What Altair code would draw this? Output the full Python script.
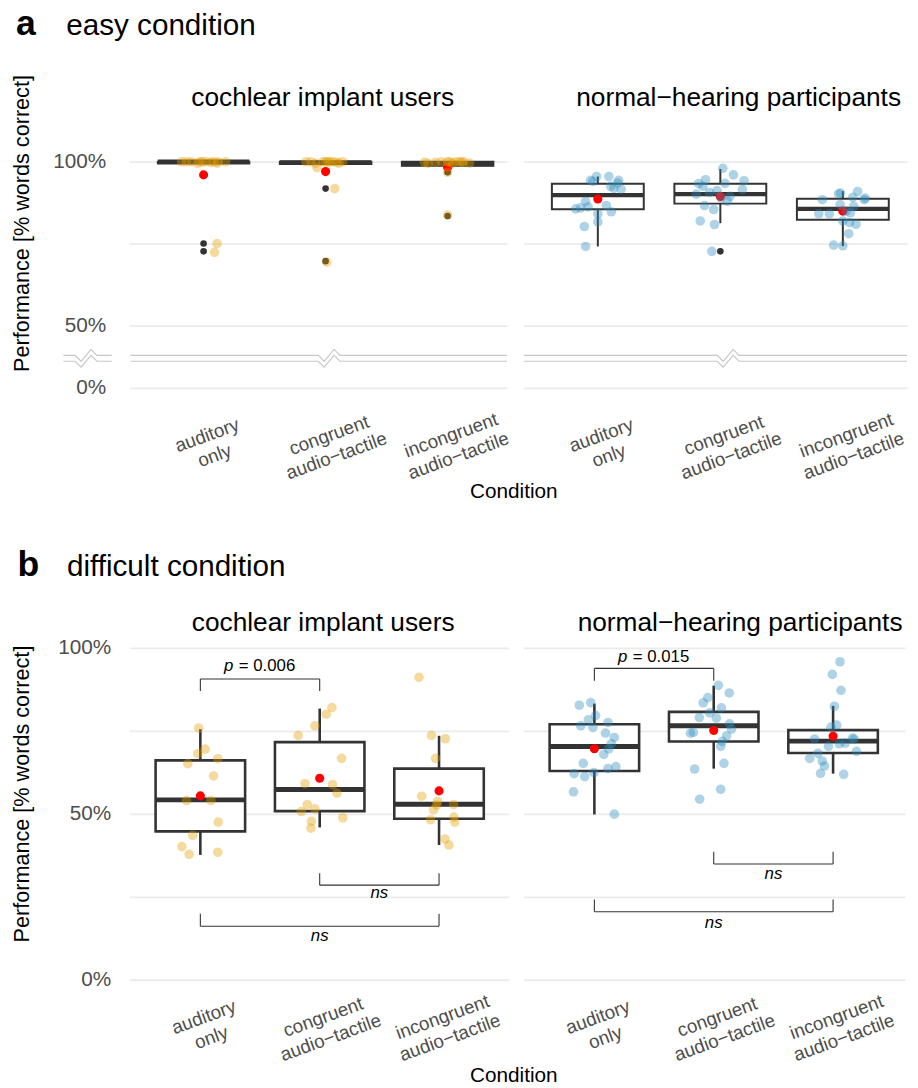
import json
import altair as alt
import pandas as pd

FONT = "Liberation Sans"
DARK = "#333333"
GRID = "#EBEBEB"
AXIS_TEXT = "#4D4D4D"
CI_COLOR = "#E69F00"
NH_COLOR = "#2B8CBE"
MEAN_COLOR = "#FF0000"
BREAK_COLOR = "#C8C8C8"

# ---------------- text ----------------
CONDITION_LINES = [["auditory", "only"], ["congruent", "audio−tactile"], ["incongruent", "audio−tactile"]]
GROUP_TITLES = ["cochlear implant users", "normal−hearing participants"]
PANEL_LETTERS = ["a", "b"]
PANEL_TITLES = ["easy condition", "difficult condition"]
Y_TITLE = "Performance [% words correct]"
X_TITLE = "Condition"

# y ticks (real %); gridlines at all, labels only where given
Y_TICKS_EASY = [0, 50, 75, 100]
Y_TICKS_DIFF = [0, 25, 50, 75, 100]
Y_LABELLED = {0: "0%", 50: "50%", 100: "100%"}
# broken axis of panel a: values >= 50 are plotted as they are, 0% sits at EASY_ZERO_AT
EASY_ZERO_AT = 30.9
EASY_BREAK_AT = [40.8, 39.0]

# ---------------- a: easy, cochlear implant users ----------------
A_CI_Q1 = [99.5, 99.3, 98.8]
A_CI_MED = [100.0, 99.8, 99.3]
A_CI_Q3 = [100.0, 100.0, 100.0]
A_CI_WLO = [99.5, 99.3, 98.8]
A_CI_WHI = [100.0, 100.0, 100.0]
A_CI_MEAN = [96.0, 97.0, 98.3]
A_CI_OUT = [[75.0, 72.6], [91.8, 69.6], [96.8, 83.4]]
A_CI_VAL = [
    [100, 100, 99.5, 100, 100, 99.6, 100, 100, 99.8, 100, 100, 100, 75.0, 72.3],
    [100, 99.5, 98.2, 100, 100, 99.6, 100, 100, 99.8, 100, 100, 100, 91.8, 69.3],
    [99.8, 99.5, 100, 100, 99.8, 99.6, 100, 99.5, 100, 99.8, 100, 100, 96.8, 83.7],
]
A_CI_JIT = [
    [-0.18, -0.10, -0.05, -0.01, 0.08, 0.11, 0.18, -0.14, 0.06, 0.12, -0.03, 0.02, 0.11, 0.09],
    [-0.16, -0.08, -0.07, 0.035, 0.06, 0.11, -0.02, 0.02, 0.09, -0.12, 0.0, 0.14, 0.075, 0.01],
    [-0.19, -0.16, 0.0, 0.10, 0.12, 0.18, -0.05, 0.04, 0.07, -0.10, 0.13, 0.02, 0.0, 0.0],
]

# ---------------- a: easy, normal-hearing ----------------
A_NH_Q1 = [85.5, 87.2, 82.3]
A_NH_MED = [89.8, 90.1, 85.6]
A_NH_Q3 = [93.3, 93.3, 88.7]
A_NH_WLO = [74.1, 81.2, 74.2]
A_NH_WHI = [95.5, 97.8, 91.0]
A_NH_MEAN = [88.6, 89.4, 84.9]
A_NH_OUT = [[], [72.6], []]
A_NH_VAL = [
    [95.5, 94.0, 94.3, 95.5, 94.3, 92.5, 91.6, 91.9, 93.5, 87.9, 85.6, 85.9, 86.2, 86.6, 84.7, 84.1, 81.6, 80.2, 74.1],
    [98.0, 96.0, 94.2, 94.5, 93.3, 93.4, 91.5, 90.1, 90.6, 91.2, 87.9, 86.6, 85.4, 81.9, 80.8, 72.6, 92.5, 89.0, 89.4],
    [90.4, 90.2, 90.9, 88.9, 89.1, 88.4, 86.9, 86.4, 84.1, 84.1, 84.4, 81.9, 81.4, 80.9, 78.0, 74.5, 74.3, 88.4, 84.9],
]
A_NH_JIT = [
    [-0.01, -0.04, -0.06, 0.09, 0.17, 0.105, 0.19, 0.13, 0.16, -0.10, -0.18, -0.14, -0.08, 0.07, 0.11, 0.0, 0.0, -0.11, -0.10],
    [0.02, 0.107, 0.194, -0.121, -0.177, 0.038, 0.18, -0.196, -0.089, -0.027, 0.059, -0.129, -0.054, -0.164, -0.048, -0.07, -0.143, 0.006, 0.078],
    [-0.019, -0.035, 0.121, 0.183, 0.081, -0.167, -0.022, 0.089, -0.196, -0.11, 0.062, 0.0, 0.054, 0.107, 0.048, -0.075, 0.0, 0.175, 0.027],
]

# ---------------- b: difficult, cochlear implant users ----------------
B_CI_Q1 = [44.7, 50.8, 48.5]
B_CI_MED = [54.2, 57.3, 52.9]
B_CI_Q3 = [66.1, 71.6, 63.6]
B_CI_WLO = [37.6, 45.9, 40.6]
B_CI_WHI = [75.5, 81.7, 73.5]
B_CI_MEAN = [55.4, 60.7, 56.9]
B_CI_OUT = [[], [], []]
B_CI_VAL = [
    [75.8, 69.5, 68.1, 66.6, 65.1, 61.4, 54.0, 54.0, 47.5, 43.5, 40.1, 37.8, 38.4],
    [82.0, 80.0, 76.5, 73.6, 66.7, 59.1, 58.8, 56.2, 52.8, 51.5, 50.7, 48.8, 47.7, 45.7],
    [91.1, 73.6, 72.6, 66.7, 55.3, 53.7, 52.8, 51.2, 48.2, 49.0, 47.5, 42.4, 40.6, 52.6],
]
B_CI_JIT = [
    [-0.014, 0.04, -0.02, 0.146, -0.105, 0.11, -0.116, 0.088, 0.15, -0.064, -0.155, -0.094, 0.146],
    [0.103, 0.055, -0.04, -0.18, 0.183, -0.123, 0.108, 0.144, -0.104, -0.04, -0.154, 0.194, -0.069, -0.074],
    [-0.168, -0.063, 0.053, -0.03, -0.146, -0.013, 0.122, -0.046, -0.071, 0.124, 0.132, 0.05, 0.083, -0.02],
]
B_CI_BRACKETS = dict(x1=[1, 2, 1], x2=[2, 3, 3], y_line=[90.6, 28.5, 16.1], y_tip=[87.0, 32.1, 19.9],
                     label=["p = 0.006", "ns", "ns"], label_x=[1.5, 2.5, 2.0], label_y=[92.9, 24.7, 11.8])

# ---------------- b: difficult, normal-hearing ----------------
B_NH_Q1 = [62.9, 71.8, 68.3]
B_NH_MED = [70.3, 76.5, 71.9]
B_NH_Q3 = [77.0, 80.7, 75.2]
B_NH_WLO = [49.8, 63.6, 62.1]
B_NH_WHI = [83.2, 88.6, 82.5]
B_NH_MEAN = [69.6, 75.1, 73.4]
B_NH_OUT = [[], [], []]
B_NH_VAL = [
    [82.7, 83.5, 79.6, 78.3, 76.5, 76.0, 77.5, 74.3, 73.0, 71.1, 67.9, 65.2, 62.1, 61.2, 62.4, 63.6, 64.2, 56.6, 49.9, 69.6],
    [88.7, 86.4, 85.0, 83.4, 81.9, 80.4, 79.0, 78.8, 77.1, 75.5, 74.3, 74.5, 73.5, 71.8, 70.3, 65.2, 63.5, 57.4, 54.4],
    [95.8, 92.0, 87.2, 82.4, 76.7, 76.1, 72.5, 72.8, 72.5, 71.3, 71.1, 70.3, 68.8, 68.2, 66.7, 65.9, 64.4, 62.2, 61.9],
]
B_NH_JIT = [
    [-0.126, -0.031, 0.01, -0.051, -0.114, -0.012, 0.114, 0.093, 0.167, 0.142, 0.079, -0.093, -0.17, -0.081, -0.004, 0.114, 0.18, -0.175, 0.167, 0.12],
    [0.039, 0.13, -0.05, -0.088, 0.064, -0.033, -0.121, 0.022, 0.132, 0.149, -0.195, -0.17, 0.108, 0.072, 0.058, 0.086, -0.16, 0.058, -0.118],
    [0.058, -0.006, 0.066, 0.011, 0.031, -0.017, -0.155, 0.163, 0.176, 0.102, 0.052, -0.039, 0.196, -0.127, -0.196, -0.091, -0.072, -0.105, 0.089],
]
B_NH_BRACKETS = dict(x1=[1, 2, 1], x2=[2, 3, 3], y_line=[93.8, 34.9, 20.5], y_tip=[90.1, 38.6, 24.2],
                     label=["p = 0.015", "ns", "ns"], label_x=[1.5, 2.5, 2.0], label_y=[95.8, 30.4, 15.6])

BOX_HALF = 0.375


def x_axis(pad):
    parts = []
    for i, lines in enumerate(CONDITION_LINES[:-1]):
        parts.append(f"datum.value == {i + 1} ? {json.dumps(lines, ensure_ascii=False)}")
    expr = " : ".join(parts) + " : " + json.dumps(CONDITION_LINES[-1], ensure_ascii=False)
    return alt.Axis(values=[1, 2, 3], labelExpr=expr, labelAngle=340, labelAlign="center",
                    labelBaseline="top", labelPadding=pad, labelFontSize=19, labelColor=AXIS_TEXT,
                    labelLineHeight=22, labelFont=FONT, labelOverlap=False, labelFlush=False,
                    ticks=False, tickSize=0, domain=False, grid=False, title=None)


def y_axis(ticks, pos_of, show, pad):
    values = [pos_of(t) for t in ticks]
    parts = [f"datum.value == {pos_of(t)} ? '{lab}'" for t, lab in Y_LABELLED.items() if t in ticks]
    expr = " : ".join(parts) + " : ''"
    return alt.Axis(values=values, labelExpr=expr, labels=show, ticks=False, tickSize=0, domain=False,
                    grid=True, gridColor=GRID, gridWidth=1.8, title=None, labelFontSize=21,
                    labelColor=AXIS_TEXT, labelPadding=pad, labelFont=FONT)


def text_layer(t, x, y, size, weight="normal", align="left", angle=0, style="normal", color="black"):
    return alt.Chart(pd.DataFrame({"k": [0]})).mark_text(
        text=t, fontSize=size, fontWeight=weight, align=align, baseline="alphabetic",
        angle=angle, font=FONT, fontStyle=style, color=color
    ).encode(x=alt.value(x), y=alt.value(y))


def panel(q1, med, q3, wlo, whi, mean, outs, vals, jits, color, xdom, ydom, width, height,
          yticks, pos_of, show_y, ypad, xpad, box_sw, med_sw, brackets=None, breaks=None, texts=()):
    xax = x_axis(xpad)
    yax = y_axis(yticks, pos_of, show_y, ypad)
    xs = alt.Scale(domain=xdom, nice=False, zero=False)
    ys = alt.Scale(domain=ydom, nice=False, zero=False)

    def X(f):
        return alt.X(f, type="quantitative", scale=xs, axis=xax)

    def Y(f):
        return alt.Y(f, type="quantitative", scale=ys, axis=yax)

    box = pd.DataFrame({"pos": [1, 2, 3], "q1": q1, "med": med, "q3": q3, "wlo": wlo, "whi": whi, "mean": mean})
    box["x_lo"] = box["pos"] - BOX_HALF
    box["x_hi"] = box["pos"] + BOX_HALF

    pts = pd.DataFrame([{"xj": i + 1 + j, "v": v} for i in range(3) for v, j in zip(vals[i], jits[i])])
    out = pd.DataFrame([{"pos": i + 1, "v": v} for i in range(3) for v in outs[i]])

    layers = []
    base = alt.Chart(box)
    layers.append(base.mark_rule(color=DARK, strokeWidth=box_sw).encode(x=X("pos"), y=Y("wlo"), y2="q1"))
    layers.append(base.mark_rule(color=DARK, strokeWidth=box_sw).encode(x=X("pos"), y=Y("q3"), y2="whi"))
    layers.append(base.mark_rect(fill="white", stroke=DARK, strokeWidth=box_sw).encode(
        x=X("x_lo"), x2="x_hi", y=Y("q1"), y2="q3"))
    layers.append(base.mark_rule(color=DARK, strokeWidth=med_sw).encode(x=X("x_lo"), x2="x_hi", y=Y("med")))
    if len(out):
        layers.append(alt.Chart(out).mark_circle(color=DARK, size=45, opacity=1).encode(x=X("pos"), y=Y("v")))
    layers.append(base.mark_circle(color=MEAN_COLOR, size=85, opacity=1).encode(x=X("pos"), y=Y("mean")))
    layers.append(alt.Chart(pts).mark_circle(color=color, size=95, opacity=0.38).encode(x=X("xj"), y=Y("v")))

    if brackets is not None:
        segs = []
        for x1, x2, yl, yt in zip(brackets["x1"], brackets["x2"], brackets["y_line"], brackets["y_tip"]):
            segs.append({"x": x1, "x2": x2, "y": yl, "y2": yl})
            segs.append({"x": x1, "x2": x1, "y": yl, "y2": yt})
            segs.append({"x": x2, "x2": x2, "y": yl, "y2": yt})
        layers.append(alt.Chart(pd.DataFrame(segs)).mark_rule(color=DARK, strokeWidth=1.1).encode(
            x=X("x"), x2="x2", y=Y("y"), y2="y2"))
        lab = pd.DataFrame({"x": brackets["label_x"], "y": brackets["label_y"], "t": brackets["label"]})
        pv = lab[lab["t"].str.startswith("p")].copy()
        pv["rest"] = pv["t"].str[1:].str.strip()
        ns = lab[~lab["t"].str.startswith("p")]
        layers.append(alt.Chart(pv).mark_text(fontSize=17, fontStyle="italic", align="left", dx=-36.5,
                                              baseline="alphabetic", font=FONT, color="black").encode(
            x=X("x"), y=Y("y"), text=alt.value("p")))
        layers.append(alt.Chart(pv).mark_text(fontSize=17, align="left", dx=-21.5, baseline="alphabetic",
                                              font=FONT, color="black").encode(
            x=X("x"), y=Y("y"), text="rest:N"))
        layers.append(alt.Chart(ns).mark_text(fontSize=17, fontStyle="italic", align="center",
                                              baseline="alphabetic", font=FONT, color="black").encode(
            x=X("x"), y=Y("y"), text="t:N"))

    if breaks is not None:
        pxu = width / (xdom[1] - xdom[0])
        pyu = height / (ydom[1] - ydom[0])
        zig = [(-12, 0), (-6, 6), (4, -6), (10, 0)]
        rows = []
        lid = 0
        for xs0, xs1, xc in breaks:
            for yb in EASY_BREAK_AT:
                pts_line = [(xs0, yb)] + [(xc + dx / pxu, yb - dy / pyu) for dx, dy in zig] + [(xs1, yb)]
                for k, (bx, by) in enumerate(pts_line):
                    rows.append({"x": bx, "y": by, "id": lid, "o": k})
                lid += 1
        layers.append(alt.Chart(pd.DataFrame(rows)).mark_line(color=BREAK_COLOR, strokeWidth=1.2).encode(
            x=X("x"), y=Y("y"), detail="id:N", order="o:Q"))

    for t in texts:
        layers.append(text_layer(**t))

    return alt.layer(*layers).properties(width=width, height=height)


def easy_pos(v):
    return EASY_ZERO_AT if v == 0 else v


def plain_pos(v):
    return v


TITLE_SIZE = 26.6
YT_SIZE = 21.9

# ---------------- row a ----------------
A_CI_XDOM = [0.393, 3.486]
A_NH_XDOM = [0.395, 3.524]
A_YDOM = [28.1, 112.7]
A_H = 280

a_ci = panel(A_CI_Q1, A_CI_MED, A_CI_Q3, A_CI_WLO, A_CI_WHI, A_CI_MEAN, A_CI_OUT, A_CI_VAL, A_CI_JIT,
             CI_COLOR, A_CI_XDOM, A_YDOM, 382, A_H, Y_TICKS_EASY, easy_pos, True, 24, 30, 2, 4.5,
             breaks=[(-0.1495, 0.2473, 0.0448), (0.401, A_CI_XDOM[1], 2.037)],
             texts=[dict(t=PANEL_LETTERS[0], x=-115, y=-86, size=36, weight="bold"),
                    dict(t=PANEL_TITLES[0], x=-64, y=-86, size=30),
                    dict(t=GROUP_TITLES[0], x=195.5, y=-14, size=TITLE_SIZE, align="center"),
                    dict(t=Y_TITLE, x=-102, y=104.5, size=YT_SIZE, align="center", angle=270),
                    dict(t=X_TITLE, x=389, y=382, size=21, align="center")])

a_nh = panel(A_NH_Q1, A_NH_MED, A_NH_Q3, A_NH_WLO, A_NH_WHI, A_NH_MEAN, A_NH_OUT, A_NH_VAL, A_NH_JIT,
             NH_COLOR, A_NH_XDOM, A_YDOM, 388, A_H, Y_TICKS_EASY, easy_pos, False, 24, 30, 2, 4.5,
             breaks=[(A_NH_XDOM[0], A_NH_XDOM[1], 2.072)],
             texts=[dict(t=GROUP_TITLES[1], x=217.5, y=-14, size=TITLE_SIZE, align="center")])

# ---------------- row b ----------------
B_CI_XDOM = [0.4065, 3.5853]
B_NH_XDOM = [0.408, 3.603]
B_YDOM = [-2.08, 108.04]
B_H = 370

b_ci = panel(B_CI_Q1, B_CI_MED, B_CI_Q3, B_CI_WLO, B_CI_WHI, B_CI_MEAN, B_CI_OUT, B_CI_VAL, B_CI_JIT,
             CI_COLOR, B_CI_XDOM, B_YDOM, 384, B_H, Y_TICKS_DIFF, plain_pos, True, 19, 22, 2.6, 5,
             brackets=B_CI_BRACKETS,
             texts=[dict(t=PANEL_LETTERS[1], x=-113.3, y=-45.5, size=36, weight="bold"),
                    dict(t=PANEL_TITLES[1], x=-63.3, y=-45.5, size=30),
                    dict(t=GROUP_TITLES[0], x=196, y=10, size=TITLE_SIZE, align="center"),
                    dict(t=Y_TITLE, x=-102, y=175, size=YT_SIZE, align="center", angle=270),
                    dict(t=X_TITLE, x=389, y=466, size=21, align="center")])

b_nh = panel(B_NH_Q1, B_NH_MED, B_NH_Q3, B_NH_WLO, B_NH_WHI, B_NH_MEAN, B_NH_OUT, B_NH_VAL, B_NH_JIT,
             NH_COLOR, B_NH_XDOM, B_YDOM, 386, B_H, Y_TICKS_DIFF, plain_pos, False, 19, 22, 2.6, 5,
             brackets=B_NH_BRACKETS,
             texts=[dict(t=GROUP_TITLES[1], x=219, y=10, size=TITLE_SIZE, align="center")])


def build(padding):
    return alt.concat(a_ci, a_nh, b_ci, b_nh, columns=2, spacing={"row": 227, "column": 15},
                      bounds="flush", align="none").properties(
        padding=padding, background="white"
    ).configure(font=FONT).configure_view(stroke=None, strokeWidth=0)


chart = build({"left": 2, "top": -8, "right": 0, "bottom": 0})
try:
    chart.to_dict()
except Exception:
    chart = build({"left": 2, "top": 0, "right": 0, "bottom": 0})

chart.save("out.html", embed_options={"renderer": "svg", "actions": False})
